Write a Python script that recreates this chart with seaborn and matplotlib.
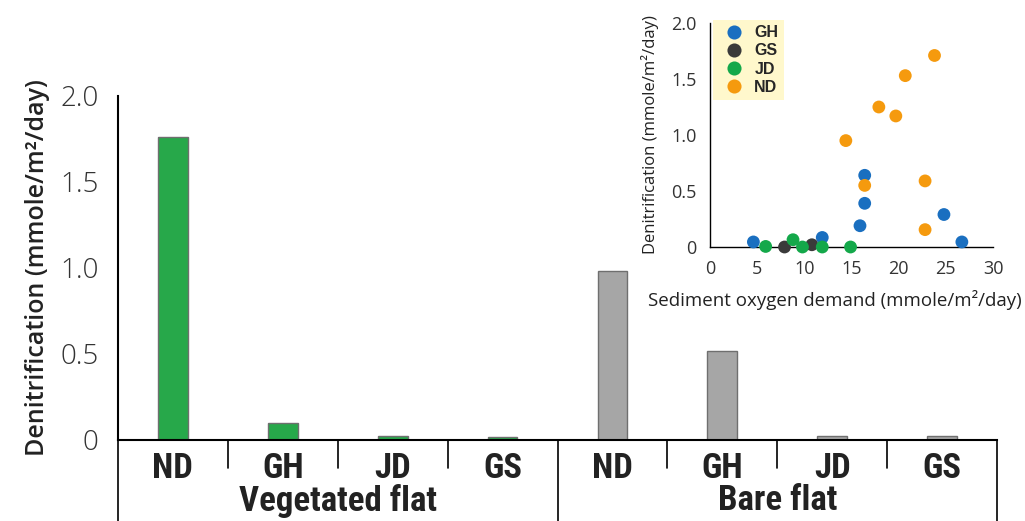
import pandas as pd
import matplotlib.pyplot as plt
import matplotlib.transforms as mtransforms
import seaborn as sns
import numpy as np

# balken: denitrifikation je standort
sites = ["ND", "GH", "JD", "GS"]
flats = ["Vegetated flat", "Bare flat"]
veg_vals = [1.76, 0.10, 0.025, 0.015]
bare_vals = [0.98, 0.52, 0.022, 0.022]

# inset: SOD vs denitrifikation
gh_sod = [4.6, 11.9, 15.9, 16.4, 16.4, 24.8, 26.7]
gh_den = [0.045, 0.085, 0.19, 0.39, 0.64, 0.29, 0.045]
gs_sod = [7.9, 10.8]
gs_den = [0.0, 0.02]
jd_sod = [5.9, 8.8, 9.8, 11.9, 14.9]
jd_den = [0.005, 0.065, 0.0, 0.0, 0.0]
nd_sod = [14.4, 16.4, 17.9, 19.7, 20.7, 23.8, 22.8, 22.8]
nd_den = [0.95, 0.55, 1.25, 1.17, 1.53, 1.71, 0.59, 0.155]

sns.set_style("white")
plt.rcParams["font.family"] = ["Open Sans", "DejaVu Sans"]
narrow = ["Liberation Sans Narrow", "Roboto Condensed", "DejaVu Sans"]

df = pd.DataFrame({
    "site": sites * 2,
    "flat": [flats[0]] * 4 + [flats[1]] * 4,
    "value": veg_vals + bare_vals,
})
df["key"] = df["flat"] + " " + df["site"]

fig = plt.figure(figsize=(10.25, 5.21), dpi=100)
W, H = 1025, 521
ax = fig.add_axes([118 / W, (H - 440) / H, (997 - 118) / W, (440 - 96) / H])

sns.barplot(
    data=df, x="key", y="value", hue="flat", order=list(df["key"]),
    palette={flats[0]: "#27a84a", flats[1]: "#a6a6a6"}, saturation=1,
    width=0.27, dodge=False, edgecolor="#6f6f6f", linewidth=1,
    legend=False, ax=ax,
)
ax.set_xlim(-0.5, 7.5)
ax.set_ylim(0, 2.0)
ax.set_yticks([0, 0.5, 1.0, 1.5, 2.0])
ax.set_yticklabels(["0", "0.5", "1.0", "1.5", "2.0"], fontsize=20, fontweight="light", color="#333333")
ax.set_xticks(range(8))
ax.set_xticklabels(df["site"], fontsize=25, fontweight="bold", fontstretch="condensed",
                   family=narrow, color="#222222")
ax.tick_params(axis="y", direction="out", length=11, width=1.5, pad=3, color="black")
ax.tick_params(axis="x", length=0, pad=9)
for s in ["top", "right"]:
    ax.spines[s].set_visible(False)
for s in ["left", "bottom"]:
    ax.spines[s].set_linewidth(1.5)
    ax.spines[s].set_color("black")
ax.set_xlabel("")
ax.set_ylabel("Denitrification (mmole/m²/day)", fontsize=18, fontweight="semibold", color="#222222")
ax.yaxis.set_label_coords(-0.077, 0.5)

# trennlinien unter der achse
trans = mtransforms.blended_transform_factory(ax.transData, ax.transAxes)
for b in np.arange(-0.5, 8, 1):
    low = -0.236 if b in (-0.5, 3.5, 7.5) else -0.081
    ax.plot([b, b], [0, low], transform=trans, clip_on=False, color="black", lw=1.2)
for xc, name in zip([1.5, 5.5], flats):
    ax.text(xc, -0.177, name, transform=trans, ha="center", va="center", fontsize=25,
            fontweight="bold", fontstretch="condensed", family=narrow, color="#222222")

# inset
sc = pd.DataFrame({
    "sod": gh_sod + gs_sod + jd_sod + nd_sod,
    "den": gh_den + gs_den + jd_den + nd_den,
    "site": ["GH"] * len(gh_sod) + ["GS"] * len(gs_sod) + ["JD"] * len(jd_sod) + ["ND"] * len(nd_sod),
})
axi = fig.add_axes([710 / W, (H - 247) / H, (993 - 710) / W, (247 - 23) / H])
sns.scatterplot(
    data=sc, x="sod", y="den", hue="site", hue_order=["GH", "GS", "JD", "ND"],
    palette={"GH": "#1a6fc0", "GS": "#3a3a3a", "JD": "#14a84a", "ND": "#f59a0e"},
    s=85, edgecolor="none", clip_on=False, ax=axi, zorder=3,
)
axi.set_facecolor("none")
axi.set_xlim(0, 30)
axi.set_ylim(0, 2.0)
axi.set_xticks(range(0, 31, 5))
axi.set_yticks([0, 0.5, 1.0, 1.5, 2.0])
axi.set_yticklabels(["0", "0.5", "1.0", "1.5", "2.0"])
axi.tick_params(direction="out", length=6, width=1, labelsize=13, colors="#333333", color="black")
for s in ["top", "right"]:
    axi.spines[s].set_visible(False)
for s in ["left", "bottom"]:
    axi.spines[s].set_color("black")
    axi.spines[s].set_linewidth(1)
axi.set_xlabel("Sediment oxygen demand (mmole/m²/day)", fontsize=13.5, color="#222222")
axi.set_ylabel("Denitrification (mmole/m²/day)", fontsize=12, color="#222222")
axi.xaxis.set_label_coords(0.44, -0.19)
axi.yaxis.set_label_coords(-0.18, 0.5)

handles, labels = axi.get_legend_handles_labels()
leg = axi.legend(handles, labels, loc="upper left", bbox_to_anchor=(0.01, 1.015),
                 borderaxespad=0, frameon=True, fancybox=False, framealpha=1,
                 facecolor="#fff8cc", edgecolor="none", labelspacing=0.2,
                 handletextpad=0.25, borderpad=0.35, markerscale=1.1,
                 prop={"family": ["Liberation Sans", "DejaVu Sans"], "weight": "bold", "size": 11.5})

plt.savefig("out.png", dpi=100)
